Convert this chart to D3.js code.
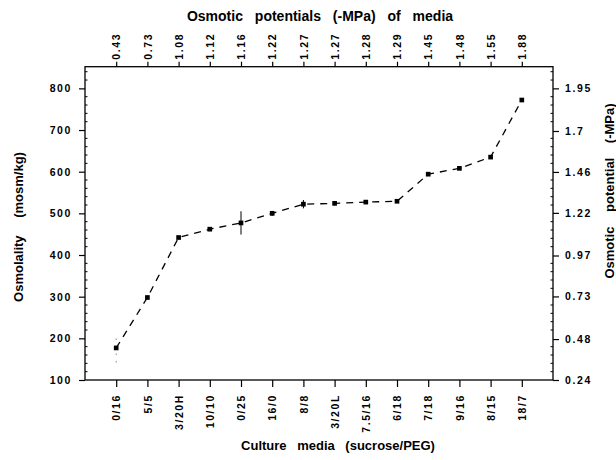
<!DOCTYPE html>
<html>
<head>
<meta charset="utf-8">
<script src="https://cdn.jsdelivr.net/npm/d3@7"></script>
<style>
  html, body { margin: 0; padding: 0; background: #fff; }
  svg { display: block; }
  text { font-family: "Liberation Sans", Arial, sans-serif; fill: #000; }
</style>
</head>
<body>
<svg id="chart" width="616" height="460"></svg>
<script>
// ---- data ----
const media = ["0/16","5/5","3/20H","10/10","0/25","16/0","8/8","3/20L","7.5/16","6/18","7/18","9/16","8/15","18/7"];
const osmolality = [177, 298, 442, 462, 477, 500, 522, 524, 527, 529, 594, 608, 635, 772];
const errors = [35, 3, 0, 4, 28, 6, 10, 5, 4, 2, 0, 0, 0, 0];
const potentialLabels = ["0.43","0.73","1.08","1.12","1.16","1.22","1.27","1.27","1.28","1.29","1.45","1.48","1.55","1.88"];
const leftTicks = [100, 200, 300, 400, 500, 600, 700, 800];
const rightTicks = [0.24, 0.48, 0.73, 0.97, 1.22, 1.46, 1.7, 1.95];

// ---- layout ----
const svg = d3.select("#chart");
const L = 85, R = 553, T = 66.7, B = 380;

const x = d3.scaleLinear().domain([-1, media.length]).range([L, R]);
const y = d3.scaleLinear().domain([100, 852]).range([B, T]);
const yR = d3.scaleLinear().domain([0.24, 1.95]).range([y(100), y(800)]);

const idx = media.map((d, i) => i);

// frame
svg.append("rect").attr("x", L).attr("y", T).attr("width", R - L).attr("height", B - T)
  .attr("fill", "none").attr("stroke", "#000").attr("stroke-width", 1.3);

const tickFont = g => g.selectAll("text")
  .style("font-size", "10.5px").style("font-weight", "bold").style("letter-spacing", "1.6px");

// bottom axis
const gB = svg.append("g").attr("transform", `translate(0,${B})`)
  .call(d3.axisBottom(x).tickValues(idx).tickFormat(i => media[i]).tickSize(7).tickPadding(4));
gB.select(".domain").remove();
gB.selectAll("line").attr("stroke-width", 1.2);
gB.selectAll("text").attr("transform", "rotate(-90)").attr("text-anchor", "end")
  .attr("x", -14).attr("y", 0).attr("dy", "0.35em");
tickFont(gB);

// top axis
const gT = svg.append("g").attr("transform", `translate(0,${T})`)
  .call(d3.axisTop(x).tickValues(idx).tickFormat(i => potentialLabels[i]).tickSize(5).tickPadding(4));
gT.select(".domain").remove();
gT.selectAll("line").attr("stroke-width", 1.2);
gT.selectAll("text").attr("transform", "rotate(-90)").attr("text-anchor", "start")
  .attr("x", 7).attr("y", 0).attr("dy", "0.35em");
tickFont(gT);

// left axis
const gL = svg.append("g").attr("transform", `translate(${L},0)`)
  .call(d3.axisLeft(y).tickValues(leftTicks).tickSize(6).tickPadding(7));
gL.select(".domain").remove();
gL.selectAll("line").attr("stroke-width", 1.2);
tickFont(gL);
const minor = d3.range(100, 852, 20).filter(v => v % 100 !== 0);
svg.append("g").selectAll("line").data(minor).join("line")
  .attr("x1", L).attr("x2", L + 2.5).attr("y1", d => y(d)).attr("y2", d => y(d))
  .attr("stroke", "#000").attr("stroke-width", 1);

// right axis
const gR = svg.append("g").attr("transform", `translate(${R},0)`)
  .call(d3.axisRight(yR).tickValues(rightTicks).tickFormat(d => String(d)).tickSize(6).tickPadding(6));
gR.select(".domain").remove();
gR.selectAll("line").attr("stroke-width", 1.2);
tickFont(gR);
svg.append("g").selectAll("line").data(minor).join("line")
  .attr("x1", R - 2.5).attr("x2", R).attr("y1", d => y(d)).attr("y2", d => y(d))
  .attr("stroke", "#000").attr("stroke-width", 1);

// error bars
svg.append("g").selectAll("line").data(idx.filter(i => errors[i] > 0)).join("line")
  .attr("x1", i => x(i)).attr("x2", i => x(i))
  .attr("y1", i => y(osmolality[i] - errors[i])).attr("y2", i => y(osmolality[i] + errors[i]))
  .attr("stroke", i => i === 0 ? "#888" : "#000")
  .attr("stroke-width", 1)
  .attr("stroke-dasharray", i => i === 0 ? "1.5,6" : null);

// dashed line
const line = d3.line().x(i => x(i)).y(i => y(osmolality[i]));
svg.append("path").datum(idx).attr("d", line)
  .attr("fill", "none").attr("stroke", "#000").attr("stroke-width", 1.3)
  .attr("stroke-dasharray", "7,6");

// markers
svg.append("g").selectAll("path").data(idx).join("path")
  .attr("transform", i => `translate(${x(i)},${y(osmolality[i])})`)
  .attr("d", d3.symbol(d3.symbolSquare, 22))
  .attr("fill", "#000");

// titles
const titleStyle = s => s.style("font-size", "13px").style("font-weight", "bold");
svg.append("text").attr("x", 320).attr("y", 21).attr("text-anchor", "middle")
  .call(titleStyle).style("font-size", "14px").style("word-spacing", "8px")
  .text("Osmotic potentials (-MPa) of media");
svg.append("text").attr("x", 338).attr("y", 450).attr("text-anchor", "middle")
  .call(titleStyle).style("word-spacing", "7px")
  .text("Culture media (sucrose/PEG)");
svg.append("text").attr("transform", "translate(23,227) rotate(-90)").attr("text-anchor", "middle")
  .call(titleStyle).style("word-spacing", "14px")
  .text("Osmolality (mosm/kg)");
svg.append("text").attr("transform", "translate(614,191) rotate(-90)").attr("text-anchor", "middle")
  .call(titleStyle).style("word-spacing", "11px")
  .text("Osmotic potential (-MPa)");
</script>
</body>
</html>
